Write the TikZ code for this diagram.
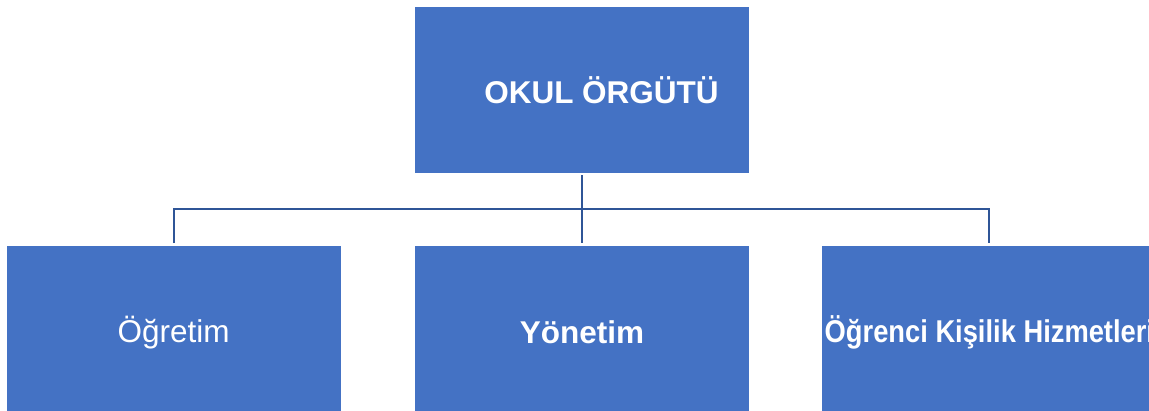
\documentclass[tikz,border=0pt]{standalone}
\usepackage{fontspec}
\setmainfont{Liberation Sans}
\usetikzlibrary{positioning}
\definecolor{boxblue}{HTML}{4472C4}
\definecolor{lineblue}{HTML}{2F5597}
\tikzstyle{unit} = [rectangle, minimum width=334pt, minimum height=166pt, inner sep=0pt, fill=boxblue, text=white, font=\fontsize{31.5}{36}\selectfont]
\tikzstyle{subunit} = [unit, minimum height=172pt]
\tikzstyle{conn} = [line width=2pt, draw=lineblue]
\begin{document}
\begin{tikzpicture}[node distance=73pt]
\useasboundingbox (0,0) rectangle (1149pt,411pt);
\clip (0,0) rectangle (1149pt,411pt);
\node (okul) [unit] at (582pt,321pt) {\hspace*{39pt}\textbf{OKUL ÖRGÜTÜ}};

\node (yon) [subunit, below=of okul] {\textbf{Yönetim}};
\node (ogr) [subunit, left=74pt of yon] {Öğretim};
\node (hiz) [subunit, right=of yon] {\scalebox{0.867}[1]{\textbf{Öğrenci Kişilik Hizmetleri}}};

\draw [conn] ([yshift=-2pt]okul.south) -- ([yshift=3pt]yon.north);
\draw [conn] ([yshift=3pt]ogr.north) -- ++(0,34pt) -| ([yshift=3pt]hiz.north);
\end{tikzpicture}
\end{document}
